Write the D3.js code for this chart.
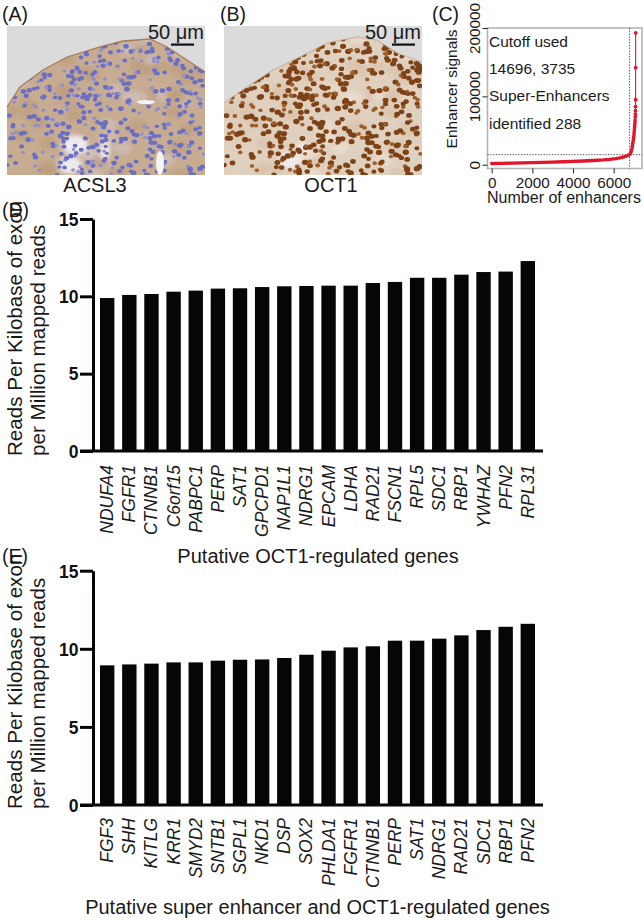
<!DOCTYPE html>
<html>
<head>
<meta charset="utf-8">
<script src="https://d3js.org/d3.v7.min.js"></script>
<style>
  html, body { margin: 0; padding: 0; background: #fff; }
  svg { display: block; }
  text { font-family: "Liberation Sans", Arial, sans-serif; fill: #1a1a1a; }
  .gene { font-style: italic; font-size: 17.5px; }
  .ytick { font-weight: bold; font-size: 17.5px; fill: #111; }
</style>
</head>
<body>
<svg id="fig" width="644" height="922"></svg>
<script>
// panel D
const genesD = ["NDUFA4", "FGFR1", "CTNNB1", "C6orf15", "PABPC1", "PERP", "SAT1", "GPCPD1", "NAP1L1", "NDRG1",
  "EPCAM", "LDHA", "RAD21", "FSCN1", "RPL5", "SDC1", "RBP1", "YWHAZ", "PFN2", "RPL31"];
const valuesD = [9.89, 10.09, 10.15, 10.3, 10.37, 10.5, 10.52, 10.6, 10.65, 10.67,
  10.69, 10.69, 10.86, 10.93, 11.2, 11.2, 11.4, 11.57, 11.6, 12.28];
// panel E
const genesE = ["FGF3", "SHH", "KITLG", "KRR1", "SMYD2", "SNTB1", "SGPL1", "NKD1", "DSP", "SOX2",
  "PHLDA1", "FGFR1", "CTNNB1", "PERP", "SAT1", "NDRG1", "RAD21", "SDC1", "RBP1", "PFN2"];
const valuesE = [8.94, 9.0, 9.05, 9.13, 9.13, 9.24, 9.3, 9.32, 9.41, 9.62,
  9.88, 10.09, 10.16, 10.52, 10.52, 10.65, 10.86, 11.2, 11.41, 11.6];
const barTicks = [0, 5, 10, 15];
// panel C
const enhancerRank = [0, 500, 1000, 1500, 2000, 2500, 3000, 3500, 4000, 4500, 5000, 5500, 5800, 6100, 6300, 6500,
  6650, 6780, 6850, 6900, 6950, 6990, 7020, 7040, 7055];
const enhancerSignal = [1800, 2000, 2300, 2600, 3000, 3400, 3800, 4300, 4800, 5400, 6100, 7000, 7800, 8900, 9900, 11500,
  13000, 14696, 18000, 24000, 33000, 42000, 52000, 60000, 66000];
// the few strongest enhancers sit apart as single dots
const topRank = [7062, 7068, 7072, 7075, 7077, 7079, 7081];
const topSignal = [70000, 74000, 79000, 85000, 95000, 142000, 193000];
const cutoffX = 6780;
const cutoffY = 14696;
const cTicksX = [0, 2000, 4000, 6000];
const cTicksY = [0, 100000, 200000];
const cNotes = ["Cutoff used", "14696, 3735", "Super-Enhancers", "identified 288"];
// tissue outlines of the two micrographs
const tissueA = [[7, 107], [20, 87], [43, 70], [67, 57], [100, 47], [123, 41], [150, 39], [167, 47], [187, 60], [205, 72], [205, 175], [7, 175]];
const tissueB = [[224, 103], [247, 87], [273, 70], [300, 57], [327, 43], [357, 37], [377, 40], [397, 53], [422, 62], [422, 175], [224, 175]];

const svg = d3.select("#fig");
const defs = svg.append("defs");
defs.append("filter").attr("id", "soft").append("feGaussianBlur").attr("stdDeviation", 0.6);
defs.append("filter").attr("id", "softer").append("feGaussianBlur").attr("stdDeviation", 2.2);

const label = (x, y, txt, size, anchor) =>
  svg.append("text").attr("x", x).attr("y", y).attr("font-size", size)
    .attr("text-anchor", anchor || "start").text(txt);

// Micrographs: a stand-in for the photographs, only texture and not data
const wobble = (i, k) => {
  const s = Math.sin(i * k) * 43758.5453;
  return s - Math.floor(s);
};
const renderPhoto = (id, x0, tissue, o) => {
  const W = 198, H = 149, y0 = 26;
  defs.append("clipPath").attr("id", `tissue-${id}`)
    .append("path").attr("d", d3.line()(tissue) + "Z");
  svg.append("rect").attr("x", x0).attr("y", y0).attr("width", W).attr("height", H).attr("fill", "#dcdbdc");
  const g = svg.append("g").attr("clip-path", `url(#tissue-${id})`);
  g.append("rect").attr("x", x0).attr("y", y0).attr("width", W).attr("height", H).attr("fill", o.tissue);
  const place = (n, kx, ky) => d3.range(n).map((i) => ({
    x: x0 + W * wobble(i + 1, kx),
    y: y0 + H * wobble(i + 1, ky),
    s: wobble(i + 1, 3.17),
  }));
  const blots = g.append("g").attr("filter", "url(#softer)");
  blots.selectAll("ellipse").data(place(70, 17.31, 29.77)).enter().append("ellipse")
    .attr("cx", (d) => d.x).attr("cy", (d) => d.y).attr("rx", 9).attr("ry", 6)
    .attr("fill", (d) => (d.s > 0.5 ? o.tissueDark : o.tissueLight)).attr("opacity", 0.7);
  o.gaps.forEach(([cx, cy, rx, ry]) => {
    blots.append("ellipse").attr("cx", cx).attr("cy", cy).attr("rx", rx).attr("ry", ry).attr("fill", "#eeeaec");
  });
  const nuclei = g.append("g").attr("filter", "url(#soft)");
  nuclei.selectAll("ellipse").data(place(o.count, 12.9898, 78.233)).enter().append("ellipse")
    .attr("cx", (d) => d.x).attr("cy", (d) => d.y)
    .attr("rx", (d) => o.r + d.s * 1.1).attr("ry", (d) => (o.r + d.s * 1.1) * 0.85)
    .attr("fill", (d) => (d.s > o.split ? o.cell : o.cell2));
  o.holes.forEach(([cx, cy, rx, ry]) => {
    nuclei.append("ellipse").attr("cx", cx).attr("cy", cy).attr("rx", rx).attr("ry", ry).attr("fill", "#f5f3f4");
  });
  svg.append("path").attr("d", d3.line()(tissue.slice(0, -2))).attr("filter", "url(#soft)")
    .attr("fill", "none").attr("stroke", o.edge).attr("stroke-width", 1.3).attr("opacity", o.edgeOpacity);
};

renderPhoto("a", 7, tissueA, {
  tissue: "#c7ac92", tissueDark: "#bd9d7c", tissueLight: "#d2c1ba", cell: "#6a6ec4", cell2: "#8b8ed0",
  edge: "#9b6c40", edgeOpacity: 0.8, r: 1.7, count: 520, split: 0.3,
  gaps: [[75, 145, 13, 10], [70, 165, 12, 9], [105, 150, 5, 10]],
  holes: [[146, 102, 9, 2], [160, 163, 4, 12]],
});
renderPhoto("b", 224, tissueB, {
  tissue: "#e0d0bf", tissueDark: "#d8c2ab", tissueLight: "#ecdfd3", cell: "#7d4219", cell2: "#9c5f2c",
  edge: "#c2a184", edgeOpacity: 0.6, r: 2.1, count: 560, split: 0.3,
  gaps: [[290, 160, 11, 9], [302, 148, 6, 6]],
  holes: [],
});

// Panel letters, scale bars and captions of the photos
label(2, 21, "(A)", 19.5);
label(220, 21, "(B)", 19.5);
label(432, 21, "(C)", 19.5);
label(2, 217, "(D)", 19.5);
label(2, 563, "(E)", 19.5);
label(148, 39, "50 μm", 20);
label(365, 39, "50 μm", 20);
svg.append("rect").attr("x", 171).attr("y", 43.5).attr("width", 23).attr("height", 2.2).attr("fill", "#111");
svg.append("rect").attr("x", 392).attr("y", 43.5).attr("width", 23).attr("height", 2.2).attr("fill", "#111");
label(95, 192, "ACSL3", 20, "middle");
label(331, 192, "OCT1", 20, "middle");

// Panel C
const renderEnhancers = () => {
  const x = d3.scaleLinear().domain([0, 6000]).range([491.7, 613.7]);
  const y = d3.scaleLinear().domain([0, 200000]).range([164.7, 28]);
  const left = 487.5, right = 642, top = 28, bottom = 168.5;
  svg.append("rect").attr("x", left).attr("y", top).attr("width", right - left).attr("height", bottom - top)
    .attr("fill", "none").attr("stroke", "#b4b4b4").attr("stroke-width", 1.6);
  const xAxis = svg.append("g").attr("transform", `translate(0,${bottom})`)
    .call(d3.axisBottom(x).tickValues(cTicksX).tickSize(5).tickFormat(d3.format("d")));
  const yAxis = svg.append("g").attr("transform", `translate(${left},0)`)
    .call(d3.axisLeft(y).tickValues(cTicksY).tickSize(5).tickFormat(d3.format("d")));
  xAxis.select(".domain").remove();
  yAxis.select(".domain").remove();
  xAxis.selectAll("line").attr("stroke", "#222");
  yAxis.selectAll("line").attr("stroke", "#222");
  xAxis.selectAll("text").attr("font-size", 15.3).attr("font-family", null).attr("y", 7).attr("dy", "0.8em");
  yAxis.selectAll("text").attr("font-size", 15.3).attr("font-family", null)
    .attr("transform", "rotate(-90)").attr("x", 0).attr("y", -7.5).attr("dy", 0)
    .attr("text-anchor", "middle");

  const cut = svg.append("g").attr("stroke", "#444").attr("stroke-width", 0.9).attr("stroke-dasharray", "1.4 1.4");
  cut.append("line").attr("x1", x(cutoffX)).attr("x2", x(cutoffX)).attr("y1", top).attr("y2", bottom);
  cut.append("line").attr("x1", left).attr("x2", right).attr("y1", y(cutoffY)).attr("y2", y(cutoffY));

  const pts = enhancerRank.map((r, i) => [r, enhancerSignal[i]]);
  const tops = topRank.map((r, i) => [r, topSignal[i]]);
  const line = d3.line().x((d) => x(d[0])).y((d) => y(d[1]));
  svg.append("path").datum(pts).attr("d", line).attr("fill", "none").attr("stroke", "#e2152c")
    .attr("stroke-width", 3.4).attr("stroke-linecap", "round").attr("stroke-linejoin", "round");
  svg.append("path").datum(pts.slice(-1).concat(tops)).attr("d", line).attr("fill", "none")
    .attr("stroke", "#e2152c").attr("stroke-width", 1.1);
  svg.selectAll("circle.pt").data(tops).enter().append("circle")
    .attr("class", "pt").attr("cx", (d) => x(d[0])).attr("cy", (d) => y(d[1])).attr("r", 1.9).attr("fill", "#e2152c");

  cNotes.forEach((t, i) => label(489, [46.7, 74, 101, 129][i], t, 15.5));
  label(564, 202.5, "Number of enhancers", 16, "middle");
  svg.append("text").attr("transform", "translate(457,89) rotate(-90)").attr("text-anchor", "middle")
    .attr("font-size", 15.5).text("Enhancer signals");
};
renderEnhancers();

// Panels D and E
const renderBars = (genes, values, o) => {
  const x = d3.scaleBand().domain(genes).range([100, 535]).paddingInner(0.35).paddingOuter(0);
  const y = d3.scaleLinear().domain([0, 15]).range([o.y0, o.y15]);
  svg.append("g").selectAll("rect").data(values).enter().append("rect")
    .attr("x", (d, i) => x(genes[i])).attr("width", x.bandwidth())
    .attr("y", (d) => y(d)).attr("height", (d) => y(0) - y(d))
    .attr("fill", "#070505");
  const yAxis = svg.append("g").attr("transform", "translate(93,0)")
    .call(d3.axisLeft(y).tickValues(barTicks).tickSize(13).tickSizeOuter(0));
  yAxis.selectAll(".domain, line").attr("stroke", "#070505").attr("stroke-width", 3);
  yAxis.selectAll("text").attr("class", "ytick").attr("font-size", null).attr("font-family", null)
    .attr("x", -14.5).attr("dy", "0.36em");
  svg.append("line").attr("x1", 80).attr("x2", 543).attr("y1", y(0)).attr("y2", y(0))
    .attr("stroke", "#070505").attr("stroke-width", 3);
  svg.append("g").selectAll("text").data(genes).enter().append("text")
    .attr("class", "gene").attr("text-anchor", "end")
    .attr("transform", (d) => `translate(${x(d) + x.bandwidth() / 2 + 6},${o.labelTop}) rotate(-90)`)
    .text((d) => d);
  svg.append("text").attr("transform", `translate(21.5,${o.yLabel}) rotate(-90)`).attr("font-size", 20.6)
    .text("Reads Per Kilobase of exon");
  svg.append("text").attr("transform", `translate(44.5,${o.yLabel}) rotate(-90)`).attr("font-size", 20.6)
    .text("per Million mapped reads");
  label(o.titleX, o.titleY, o.title, 20, "middle");
};
renderBars(genesD, valuesD, { y0: 451, y15: 219, labelTop: 465, yLabel: 456, titleX: 318, titleY: 563, title: "Putative OCT1-regulated genes" });
renderBars(genesE, valuesE, { y0: 805, y15: 570.7, labelTop: 818, yLabel: 809, titleX: 317.5, titleY: 914, title: "Putative super enhancer and OCT1-regulated genes" });
</script>
</body>
</html>
